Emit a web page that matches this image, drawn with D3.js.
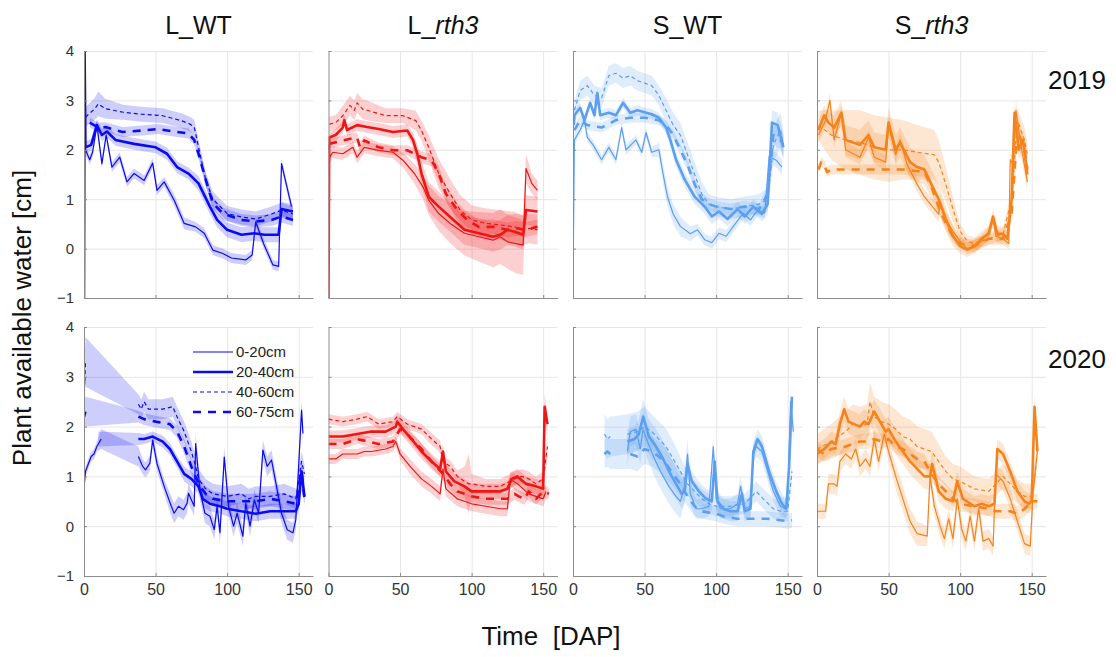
<!DOCTYPE html>
<html>
<head>
<meta charset="utf-8">
<script src="https://cdn.jsdelivr.net/npm/d3@7"></script>
<style>
  body { margin: 0; background: #fff; }
  text { font-family: Arial, "Liberation Sans", sans-serif; }
</style>
</head>
<body>
<svg width="1116" height="657"></svg>
<script>
// each point: [day, mean, sd]; null mean = gap in the line (band still spans it)
const depths = ["0-20cm", "20-40cm", "40-60cm", "60-75cm"];
const xTicks = [0, 50, 100, 150];
const yTicks = [-1, 0, 1, 2, 3, 4];
const titles = ["L_WT", "L_rth3", "S_WT", "S_rth3"];
const years = ["2019", "2020"];
const colors = ["#0b0bf2", "#ee1515", "#5c9ff0", "#f5831c"];

// L_WT 2019
const lwt19_a = [[0,4.0,0],[1,2.0,0.1],[4,1.8,0.1],[6,1.95,0.1],[9,2.5,0.1],[12.5,1.72,0.1],[15.5,2.3,0.1],[19.5,1.65,0.1],[25,1.85,0.1],[30,1.35,0.1],[35,1.52,0.1],[42,1.38,0.1],[48,1.73,0.1],[51,1.18,0.1],[56,1.35,0.1],[63,0.98,0.12],[70,0.51,0.12],[78,0.44,0.1],[84,0.31,0.1],[90,-0.03,0.1],[97,-0.1,0.1],[103,-0.19,0.1],[113,-0.23,0.1],[117.5,-0.13,0.1],[120,0.54,0.1],[125.5,0.1,0.1],[132,-0.33,0.1],[136,-0.36,0.1],[138,1.72,0.1],[145,0.85,0.1]];
const lwt19_b = [[0,-1,0],[0.4,4,0],[1,2.05,0.12],[5,2.1,0.12],[9,2.5,0.12],[12.5,2.3,0.12],[16,2.37,0.12],[22,2.2,0.12],[35,2.12,0.12],[50,2.05,0.12],[58,1.92,0.12],[65,1.65,0.12],[73,1.52,0.12],[80,1.32,0.15],[88,0.85,0.15],[93,0.58,0.15],[100,0.38,0.15],[110,0.28,0.15],[119,0.31,0.15],[126,0.28,0.15],[136,0.28,0.15],[138,0.8,0.15],[146,0.75,0.15]];
const lwt19_c = [[1,2.66,0.2],[7.5,2.83,0.22],[10,2.93,0.25],[15,2.83,0.2],[27.5,2.76,0.15],[40,2.72,0.15],[55,2.69,0.15],[68,2.59,0.15],[74,2.52,0.15],[77,2.46,0.15],[80,2.06,0.15],[85,1.4,0.15],[90,1.0,0.15],[100,0.71,0.15],[110,0.64,0.15],[120,0.6,0.15],[131,0.7,0.15],[138,0.78,0.15],[146,0.7,0.15]];
const lwt19_d = [[4,2.55,0.1],[10,2.45,0.1],[15,2.46,0.1],[27,2.36,0.1],[40,2.39,0.1],[52,2.42,0.1],[65,2.36,0.1],[73,2.33,0.1],[77,2.2,0.1],[80,1.92,0.1],[85,1.4,0.12],[90,0.92,0.12],[97,0.71,0.12],[110,0.58,0.12],[120,0.55,0.12],[131,0.58,0.12],[138,0.65,0.12],[146,0.58,0.12]];

// L_rth3 2019
const lr19_a = [[0,2.1,0],[1,1.85,0.12],[3,1.95,0.12],[10,1.92,0.12],[17,2.05,0.12],[20,1.85,0.12],[25,2.05,0.12],[35,1.99,0.12],[45,1.95,0.12],[52,1.79,0.15],[60,1.52,0.2],[66,1.25,0.25],[70,0.98,0.3],[77,0.71,0.35],[85,0.51,0.4],[95,0.31,0.45],[105,0.24,0.5],[115,0.17,0.55],[120,0.24,0.55],[125,0.14,0.55],[131,0.1,0.6],[136,0.07,0.6],[138,1.62,0.3],[142,1.32,0.2],[146,1.18,0.2]];
const lr19_b = [[0,-1,0],[0.5,2.25,0.1],[5,2.3,0.12],[10,2.45,0.12],[11,2.6,0.12],[13,2.4,0.12],[20,2.5,0.12],[27,2.46,0.12],[35,2.42,0.12],[45,2.36,0.12],[55,2.39,0.12],[59,2.2,0.15],[62,1.92,0.2],[65,1.52,0.25],[70,1.05,0.3],[77,0.85,0.3],[85,0.64,0.3],[95,0.38,0.3],[105,0.31,0.3],[115,0.24,0.3],[120,0.28,0.3],[125,0.38,0.3],[130,0.34,0.3],[136,0.28,0.3],[138,0.78,0.3],[146,0.75,0.3]];
const lr19_c = [[0.5,2.52,0.15],[5,2.55,0.15],[10,2.69,0.2],[15,2.9,0.2],[18,2.8,0.2],[20,2.95,0.2],[24,2.82,0.2],[27,2.8,0.2],[40,2.69,0.15],[52,2.69,0.15],[61,2.59,0.2],[65,2.39,0.2],[70,2.05,0.25],[77,1.52,0.3],[85,1.11,0.3],[92,0.78,0.3],[100,0.58,0.3],[110,0.51,0.3],[120,0.48,0.3],[130,0.44,0.3],[136,0.38,0.3],[140,0.41,0.3],[146,0.38,0.3]];
const lr19_d = [[0.5,2.12,0.1],[10,2.19,0.1],[20,2.25,0.1],[22,2.05,0.1],[25,2.19,0.1],[35,2.05,0.1],[45,1.99,0.1],[55,1.99,0.1],[65,1.85,0.12],[72,1.79,0.12],[77,1.52,0.15],[82,1.11,0.15],[90,0.78,0.15],[97,0.58,0.15],[105,0.44,0.15],[115,0.44,0.15],[125,0.38,0.15],[132,0.41,0.15],[137,0.38,0.15],[146,0.44,0.15]];

// S_WT 2019
const sw19_a = [[0,-0.7,0],[1,2.2,0.1],[5,2.4,0.1],[8,2.6,0.1],[10,2.25,0.1],[14,2.1,0.1],[20,1.8,0.1],[25,2.05,0.1],[30,1.8,0.1],[34,2.45,0.1],[37,2.0,0.1],[44,2.2,0.1],[48,1.95,0.1],[51,2.35,0.1],[55,1.95,0.1],[60,2.0,0.15],[63,1.5,0.2],[66,1.05,0.2],[70,0.7,0.2],[75,0.45,0.2],[82,0.3,0.15],[87,0.38,0.12],[92,0.18,0.12],[97,0.12,0.12],[102,0.31,0.12],[107,0.25,0.12],[112,0.45,0.12],[119,0.72,0.12],[124,0.58,0.12],[129,0.78,0.12],[134,0.72,0.12],[137,1.86,0.15],[142,1.79,0.15],[146,1.65,0.15]];
const sw19_b = [[0.5,2.5,0],[1,2.7,0.1],[5,2.85,0.1],[8,2.6,0.1],[12,2.95,0.1],[15,2.7,0.1],[17,3.15,0.1],[19,2.7,0.1],[25,2.75,0.1],[30,2.7,0.1],[35,2.95,0.1],[40,2.75,0.1],[45,2.8,0.1],[55,2.72,0.1],[60,2.65,0.1],[65,2.45,0.12],[68,2.2,0.15],[72,1.8,0.15],[78,1.4,0.15],[85,1.05,0.15],[92,0.85,0.15],[97,0.65,0.15],[102,0.75,0.15],[108,0.6,0.15],[115,0.8,0.15],[120,0.65,0.15],[126,0.85,0.15],[132,0.7,0.15],[136,0.9,0.2],[139,2.55,0.25],[143,2.5,0.25],[147,2.05,0.25]];
const sw19_c = [[1,2.8,0.2],[5,3.2,0.2],[10,3.3,0.2],[15,3.1,0.2],[20,3.05,0.2],[25,3.5,0.2],[30,3.55,0.2],[35,3.45,0.2],[40,3.5,0.2],[45,3.4,0.2],[50,3.35,0.2],[55,3.3,0.2],[60,3.1,0.2],[65,2.8,0.25],[70,2.5,0.25],[75,2.3,0.25],[80,1.9,0.25],[85,1.5,0.25],[90,1.1,0.25],[95,0.9,0.2],[100,0.85,0.2],[110,0.8,0.2],[120,0.85,0.2],[130,0.9,0.2],[136,1.0,0.25],[140,2.1,0.35],[145,2.4,0.35],[147,2.1,0.3]];
const sw19_d = [[1,2.4,0.1],[5,2.6,0.1],[10,2.5,0.1],[20,2.45,0.1],[30,2.6,0.1],[40,2.65,0.1],[50,2.65,0.1],[60,2.6,0.1],[65,2.5,0.1],[70,2.3,0.1],[75,2.0,0.12],[80,1.7,0.12],[85,1.3,0.12],[90,1.0,0.12],[95,0.9,0.12],[100,0.85,0.12],[110,0.8,0.12],[120,0.85,0.12],[130,0.8,0.12],[136,1.1,0.15],[140,2.3,0.2],[145,2.2,0.2],[147,2.1,0.2]];

// S_rth3 2019
const sr19_a = [[1,2.3,0.15],[6,2.6,0.15],[9,3.0,0.15],[12,2.2,0.15],[17,2.75,0.15],[20,2.0,0.15],[30,1.85,0.15],[36,2.25,0.15],[40,1.85,0.15],[48,1.75,0.15],[50,2.5,0.15],[55,1.9,0.15],[58,2.2,0.15],[63,1.7,0.15],[70,1.3,0.15],[75,1.05,0.15],[85,0.7,0.15],[86,0.95,0.15],[90,0.6,0.15],[95,0.35,0.15],[100,0.15,0.12],[105,0.0,0.12],[110,0.05,0.12],[115,0.15,0.12],[120,0.35,0.12],[123,0.58,0.12],[125,0.25,0.12],[130,0.2,0.12],[134,0.1,0.12],[135,1.8,0.15],[137,1.7,0.15],[139,2.8,0.2],[143,2.0,0.2],[147,1.35,0.2]];
const sr19_b = [[1,2.4,0.2],[5,2.7,0.2],[8,2.55,0.2],[12,2.45,0.25],[17,2.75,0.25],[20,2.2,0.3],[30,2.1,0.3],[36,2.3,0.3],[40,2.05,0.3],[48,2.0,0.3],[50,2.55,0.3],[55,2.0,0.3],[58,2.15,0.3],[65,1.75,0.3],[70,1.65,0.3],[75,1.6,0.3],[80,1.3,0.3],[85,1.0,0.3],[90,0.6,0.25],[95,0.25,0.2],[100,0.05,0.15],[105,-0.02,0.15],[110,0.05,0.15],[115,0.2,0.15],[120,0.3,0.15],[123,0.65,0.15],[126,0.3,0.15],[130,0.3,0.15],[133,0.2,0.15],[136,1.0,0.2],[138,2.75,0.2],[141,2.0,0.2],[144,2.2,0.2],[147,1.5,0.2]];
const sr19_c = [[1,2.5,0.3],[10,2.3,0.5],[20,2.2,0.6],[30,2.15,0.65],[40,2.05,0.65],[50,2.0,0.65],[60,2.0,0.6],[70,1.95,0.55],[82,1.9,0.5],[85,1.75,0.45],[90,1.3,0.35],[95,0.8,0.25],[100,0.35,0.15],[105,0.15,0.12],[110,0.1,0.12],[120,0.2,0.12],[130,0.3,0.12],[136,1.0,0.2],[140,2.6,0.25],[145,2.2,0.25],[147,1.9,0.25]];
const sr19_d = [[1,1.6,0.1],[3,1.75,0.1],[5,1.7,0.1],[7,1.55,0.1],[10,1.6,0.1],[20,1.6,0.1],[40,1.6,0.1],[60,1.6,0.1],[75,1.55,0.1],[80,1.25,0.12],[85,0.85,0.12],[90,0.5,0.12],[95,0.25,0.12],[100,0.1,0.12],[110,0.05,0.12],[120,0.2,0.12],[130,0.2,0.12],[136,0.7,0.15],[140,2.4,0.2],[145,2.0,0.2],[147,1.6,0.2]];

// L_WT 2020
const lwt20_a = [[0,0.75,0.1],[1,1.1,0.1],[3,1.25,0.1],[5,1.4,0.1],[7,1.45,0.1],[9,1.6,0.1],[12,1.75,0.2],[25,null,null],[38,1.4,0.2],[41,1.2,0.15],[43,1.13,0.15],[46,1.26,0.15],[48,1.73,0.15],[51,1.26,0.15],[56,0.8,0.15],[61,0.4,0.2],[63,0.26,0.2],[66,0.4,0.2],[69.5,0.33,0.2],[72,0.46,0.2],[73,0.66,0.2],[77,0.4,0.2],[78,1.66,0.2],[81,0.73,0.2],[84.5,0.26,0.2],[88,0.2,0.2],[91,-0.07,0.2],[93,0.4,0.2],[95,-0.13,0.2],[98,1.39,0.2],[101,0.4,0.2],[104.5,0.0,0.2],[107,0.26,0.2],[111,-0.2,0.2],[113,0.46,0.2],[116,0.0,0.2],[119,0.53,0.2],[122,0.26,0.2],[125,1.53,0.2],[128,1.2,0.2],[131,1.33,0.2],[134.5,0.8,0.2],[138,0.26,0.2],[142,-0.07,0.2],[146,-0.13,0.2],[148,0.13,0.2],[152,2.33,0.2],[153,1.86,0.2]];
const lwt20_b = [[10,1.75,0.15],[25,null,null],[38,1.75,0.12],[42,1.75,0.1],[48,1.8,0.1],[55,1.7,0.12],[60,1.55,0.12],[65,1.3,0.12],[70,1.05,0.15],[75,0.95,0.15],[80,0.8,0.15],[83,0.55,0.15],[88,0.45,0.15],[95,0.4,0.15],[100,0.35,0.15],[110,0.3,0.15],[120,0.25,0.15],[130,0.3,0.15],[140,0.3,0.15],[148,0.3,0.15],[150,0.45,0.15],[152,1.1,0.15],[154,0.6,0.15]];
const lwt20_c = [[0,3.35,0.5],[0.5,2.85,0.45],[1,3.3,0.5],[20,null,null],[38,2.45,0.2],[40,2.35,0.2],[42,2.5,0.2],[45,2.35,0.2],[55,2.35,0.2],[62,2.4,0.2],[65,2.2,0.2],[70,1.9,0.2],[75,1.5,0.2],[78,1.2,0.2],[80,0.95,0.2],[85,0.75,0.2],[90,0.65,0.2],[100,0.6,0.2],[110,0.65,0.2],[115,0.55,0.2],[120,0.6,0.2],[130,0.6,0.2],[140,0.65,0.2],[148,0.55,0.2],[152,1.3,0.2],[154,1.05,0.2]];
const lwt20_d = [[0,2.2,0.3],[1,2.3,0.3],[20,null,null],[38,2.2,0.12],[42,2.15,0.12],[50,2.1,0.12],[60,2.05,0.12],[65,1.9,0.12],[70,1.6,0.15],[75,1.2,0.15],[80,0.85,0.15],[85,0.65,0.15],[90,0.55,0.15],[100,0.5,0.15],[110,0.5,0.15],[120,0.5,0.15],[130,0.55,0.15],[140,0.5,0.15],[148,0.45,0.15],[152,1.1,0.15],[154,0.55,0.15]];

// L_rth3 2020
const lr20_a = [[0,1.35,0.1],[5,1.35,0.1],[10,1.45,0.1],[15,1.45,0.1],[20,1.45,0.1],[25,1.5,0.1],[30,1.5,0.1],[40,1.55,0.1],[45,1.6,0.1],[47,1.7,0.1],[50,1.45,0.12],[57,1.2,0.15],[65,0.95,0.15],[72,0.8,0.15],[78,0.65,0.15],[80,1.15,0.15],[82,0.75,0.15],[90,0.55,0.15],[95,0.5,0.15],[100,0.45,0.15],[110,0.4,0.15],[120,0.35,0.15],[125,0.35,0.15],[127,0.95,0.15],[132,0.85,0.15],[140,0.65,0.15],[145,0.6,0.15],[150,0.55,0.15],[152,0.7,0.15]];
const lr20_b = [[0,1.8,0.12],[10,1.8,0.12],[20,1.85,0.12],[30,1.9,0.12],[40,1.9,0.12],[47,2.0,0.12],[48,2.1,0.15],[52,1.95,0.15],[58,1.75,0.15],[65,1.5,0.15],[72,1.3,0.15],[78,1.15,0.15],[80,1.5,0.15],[82,1.1,0.15],[88,0.9,0.15],[95,0.8,0.15],[100,0.7,0.15],[110,0.7,0.15],[120,0.7,0.15],[125,0.75,0.15],[128,0.95,0.15],[132,1.0,0.15],[138,0.85,0.15],[145,0.8,0.15],[150,0.75,0.15],[151,2.4,0.25],[153,2.05,0.25]];
const lr20_c = [[0,2.15,0.1],[10,2.1,0.1],[20,2.15,0.1],[27,2.2,0.1],[35,2.05,0.1],[45,2.1,0.1],[48,2.2,0.1],[55,2.05,0.1],[65,1.95,0.1],[72,1.75,0.12],[78,1.6,0.12],[80,1.3,0.12],[85,1.2,0.12],[90,1.0,0.12],[95,0.9,0.3],[98,0.85,0.6],[100,0.85,0.2],[110,0.8,0.15],[120,0.8,0.15],[130,0.95,0.15],[135,1.0,0.15],[140,0.95,0.15],[145,0.85,0.15],[150,0.95,0.15],[153,1.6,0.2]];
const lr20_d = [[0,1.65,0.1],[10,1.65,0.1],[20,1.75,0.1],[28,1.7,0.1],[35,1.65,0.1],[45,1.7,0.1],[50,1.95,0.1],[55,1.85,0.1],[65,1.55,0.12],[72,1.3,0.12],[80,1.05,0.12],[85,0.85,0.12],[90,0.7,0.12],[100,0.6,0.12],[110,0.55,0.12],[120,0.55,0.12],[125,0.55,0.12],[130,0.65,0.12],[133,0.6,0.12],[137,0.55,0.12],[140,0.7,0.12],[145,0.55,0.12],[150,0.7,0.12],[154,0.65,0.12]];

// S_WT 2020
const sw20_a = [[38,1.5,0.3],[40,1.9,0.3],[44,1.95,0.3],[47,1.55,0.3],[49,1.95,0.35],[52,1.7,0.35],[57,1.35,0.35],[62,1.05,0.35],[67,0.8,0.35],[72,0.6,0.35],[75,0.5,0.35],[78,0.8,0.3],[80,1.45,0.3],[82,0.65,0.25],[86,0.35,0.2],[90,0.35,0.2],[95,0.4,0.2],[98,1.6,0.2],[100,0.55,0.2],[103,0.35,0.2],[110,0.35,0.2],[115,0.45,0.2],[117,0.8,0.2],[120,0.35,0.2],[124,0.4,0.2],[126,1.45,0.2],[128,1.6,0.2],[132,1.5,0.2],[136,1.1,0.2],[140,0.7,0.2],[145,0.4,0.2],[148,0.35,0.2],[150,0.45,0.2],[152,2.5,0.2],[154,1.9,0.2]];
const sw20_b = [[38,1.7,0.25],[43,1.75,0.25],[46,1.85,0.3],[49,2.2,0.35],[53,1.8,0.35],[58,1.6,0.35],[63,1.35,0.35],[68,1.05,0.35],[73,0.8,0.3],[76,0.65,0.3],[78,0.7,0.25],[80,1.25,0.25],[83,0.9,0.2],[88,0.7,0.2],[93,0.55,0.2],[97,0.5,0.2],[99,1.3,0.2],[101,0.5,0.2],[105,0.35,0.2],[110,0.3,0.2],[115,0.3,0.2],[118,0.65,0.2],[120,0.3,0.2],[124,0.35,0.2],[126,1.5,0.2],[129,1.75,0.2],[132,1.6,0.2],[137,1.1,0.2],[142,0.7,0.2],[146,0.45,0.2],[149,0.35,0.2],[151,1.2,0.2],[153,2.6,0.2]];
const sw20_c = [[22,1.85,0.4],[24,1.75,0.4],[26,1.8,0.4],[32,null,null],[38,1.85,0.4],[45,1.9,0.4],[50,2.0,0.4],[55,1.9,0.35],[60,1.75,0.35],[65,1.6,0.35],[70,1.35,0.35],[75,1.1,0.3],[80,0.85,0.25],[85,0.7,0.2],[90,0.55,0.2],[95,0.45,0.2],[100,0.4,0.2],[110,0.4,0.2],[120,0.45,0.2],[125,0.6,0.2],[128,0.7,0.2],[133,0.55,0.2],[140,0.35,0.2],[145,0.3,0.2],[150,0.3,0.2],[153,1.1,0.2]];
const sw20_d = [[22,1.45,0.3],[24,1.5,0.3],[26,1.45,0.3],[32,null,null],[40,1.45,0.3],[45,1.4,0.3],[50,1.55,0.3],[55,1.5,0.3],[60,1.4,0.3],[65,1.25,0.3],[70,1.05,0.25],[75,0.85,0.25],[80,0.6,0.2],[85,0.4,0.2],[90,0.3,0.15],[100,0.25,0.15],[105,0.2,0.15],[115,0.15,0.15],[125,0.15,0.15],[135,0.15,0.15],[145,0.12,0.15],[150,0.1,0.15],[153,0.12,0.15]];

// S_rth3 2020
const sr20_a = [[0,0.3,0.15],[6,0.3,0.15],[8,0.85,0.2],[12,0.85,0.2],[14,0.8,0.2],[16,1.3,0.2],[20,1.45,0.2],[24,1.35,0.2],[27,1.55,0.2],[30,1.2,0.2],[34,1.35,0.2],[37,1.2,0.2],[40,1.75,0.2],[43,1.3,0.2],[47,1.85,0.2],[50,1.5,0.2],[55,1.0,0.25],[60,0.55,0.25],[65,0.1,0.25],[70,-0.15,0.25],[77,-0.2,0.2],[79,1.0,0.2],[82,0.4,0.2],[86,0.0,0.2],[89,-0.25,0.2],[92,0.15,0.2],[95,-0.25,0.2],[98,0.55,0.2],[101,-0.05,0.2],[104,-0.3,0.2],[107,0.2,0.2],[110,-0.3,0.2],[113,0.35,0.2],[116,-0.3,0.2],[120,-0.25,0.2],[123,-0.4,0.2],[125,1.05,0.2],[130,0.9,0.2],[135,0.55,0.2],[140,0.1,0.2],[145,-0.35,0.2],[149,-0.4,0.2],[151,0.7,0.2],[154,1.5,0.2]];
const sr20_b = [[0,1.45,0.2],[5,1.55,0.2],[10,1.7,0.2],[13,1.65,0.2],[16,2.05,0.25],[19,2.35,0.25],[22,2.1,0.25],[26,2.05,0.25],[30,2.0,0.25],[33,2.1,0.25],[36,2.05,0.25],[40,2.3,0.25],[45,2.05,0.25],[48,1.9,0.25],[50,1.95,0.25],[55,1.7,0.25],[60,1.5,0.25],[65,1.3,0.25],[70,1.15,0.25],[75,1.0,0.25],[79,1.0,0.25],[80.5,1.25,0.25],[85,0.7,0.2],[90,0.55,0.2],[95,0.5,0.2],[98,0.9,0.2],[102,0.55,0.2],[110,0.4,0.2],[115,0.45,0.2],[120,0.4,0.2],[124,0.45,0.2],[126,1.55,0.2],[130,1.45,0.2],[135,1.1,0.2],[140,0.7,0.2],[145,0.5,0.2],[148,0.45,0.2],[150,0.5,0.2],[152,2.4,0.25],[154,1.5,0.25]];
const sr20_c = [[0,1.55,0.3],[10,1.7,0.35],[20,1.9,0.4],[25,2.05,0.4],[30,2.0,0.4],[35,2.05,0.4],[37,2.5,0.4],[40,2.2,0.4],[45,2.1,0.4],[50,2.05,0.4],[55,1.95,0.4],[60,1.8,0.4],[65,1.75,0.4],[70,1.6,0.4],[75,1.55,0.4],[80,1.5,0.4],[85,1.3,0.35],[90,1.1,0.3],[95,0.95,0.3],[100,0.9,0.3],[110,0.75,0.25],[120,0.7,0.25],[125,0.85,0.25],[130,1.0,0.25],[135,0.85,0.25],[140,0.7,0.25],[145,0.6,0.25],[150,0.6,0.25],[153,1.2,0.3]];
const sr20_d = [[0,1.55,0.15],[5,1.45,0.15],[10,1.55,0.15],[20,1.6,0.15],[30,1.7,0.15],[35,1.7,0.15],[40,1.75,0.15],[45,1.7,0.15],[50,1.75,0.15],[55,1.6,0.15],[60,1.55,0.15],[65,1.45,0.15],[70,1.35,0.15],[75,1.3,0.15],[80,1.05,0.15],[85,0.85,0.15],[90,0.7,0.15],[95,0.55,0.15],[100,0.45,0.15],[110,0.4,0.15],[120,0.35,0.15],[125,0.3,0.15],[130,0.3,0.15],[135,0.3,0.15],[140,0.25,0.15],[145,0.35,0.15],[150,0.5,0.15],[154,0.5,0.15]];

const panelSeries = [
  [[lwt19_a, lwt19_b, lwt19_c, lwt19_d], [lr19_a, lr19_b, lr19_c, lr19_d], [sw19_a, sw19_b, sw19_c, sw19_d], [sr19_a, sr19_b, sr19_c, sr19_d]],
  [[lwt20_a, lwt20_b, lwt20_c, lwt20_d], [lr20_a, lr20_b, lr20_c, lr20_d], [sw20_a, sw20_b, sw20_c, sw20_d], [sr20_a, sr20_b, sr20_c, sr20_d]]
];

// line styles per depth
const widths = [1.2, 2.6, 1.2, 2.6];
const dashes = [null, null, "4,3", "8,7"];

const svg = d3.select("svg");
const colLeft = [84, 328.5, 573, 817];
const panelW = 229;
const rowTop = [51, 327];
const rowH = [247, 249];
const axisColor = "#8c8c8c";

panelSeries.forEach((row, r) => {
  row.forEach((series, c) => {
    const x = d3.scaleLinear().domain([0, 160]).range([colLeft[c], colLeft[c] + panelW]);
    const y = d3.scaleLinear().domain([-1, 4]).range([rowTop[r] + rowH[r], rowTop[r]]);
    const g = svg.append("g");
    const color = colors[c];

    // grid
    g.append("g")
      .attr("transform", `translate(0,${rowTop[r] + rowH[r]})`)
      .call(d3.axisBottom(x).tickValues([50, 100, 150]).tickSize(-rowH[r]).tickFormat(""))
      .call(s => s.select(".domain").remove())
      .call(s => s.selectAll("line").attr("stroke", "#e6e6e6"));
    g.append("g")
      .attr("transform", `translate(${colLeft[c]},0)`)
      .call(d3.axisLeft(y).tickValues([0, 1, 2, 3, 4]).tickSize(-panelW).tickFormat(""))
      .call(s => s.select(".domain").remove())
      .call(s => s.selectAll("line").attr("stroke", "#e6e6e6"));

    const clipId = `clip${r}${c}`;
    svg.append("clipPath").attr("id", clipId)
      .append("rect").attr("x", colLeft[c]).attr("y", rowTop[r])
      .attr("width", panelW).attr("height", rowH[r]);
    const plot = g.append("g").attr("clip-path", `url(#${clipId})`);

    const area = d3.area()
      .x(d => x(d[0])).y0(d => y(d[1] - d[2])).y1(d => y(d[1] + d[2]));
    const line = d3.line()
      .defined(d => d[1] !== null)
      .x(d => x(d[0])).y(d => y(d[1]));

    series.forEach(s => {
      plot.append("path")
        .attr("d", area(s.filter(d => d[1] !== null)))
        .attr("fill", color).attr("fill-opacity", 0.2).attr("stroke", "none");
    });
    series.forEach((s, i) => {
      plot.append("path")
        .attr("d", line(s))
        .attr("fill", "none").attr("stroke", color)
        .attr("stroke-width", widths[i])
        .attr("stroke-dasharray", dashes[i])
        .attr("stroke-linejoin", "round");
    });

    // axes
    const xa = g.append("g")
      .attr("transform", `translate(0,${rowTop[r] + rowH[r]})`)
      .call(d3.axisBottom(x).tickValues(xTicks).tickSizeInner(-3).tickSizeOuter(0).tickPadding(8)
        .tickFormat(r === 1 ? d3.format("d") : ""));
    const ya = g.append("g")
      .attr("transform", `translate(${colLeft[c]},0)`)
      .call(d3.axisLeft(y).tickValues(yTicks).tickSizeInner(-3).tickSizeOuter(0).tickPadding(10)
        .tickFormat(c === 0 ? d3.format("d") : ""));
    [xa, ya].forEach(a => {
      a.select(".domain").attr("stroke", axisColor);
      a.selectAll(".tick line").attr("stroke", axisColor);
      a.selectAll(".tick text").attr("fill", "#333")
        .style("font-family", "Arial, 'Liberation Sans', sans-serif");
    });
    xa.selectAll(".tick text").style("font-size", "16px");
    ya.selectAll(".tick text").style("font-size", "15px");
  });
});

// column titles
titles.forEach((t, c) => {
  const cx = colLeft[c] + panelW / 2;
  const txt = svg.append("text").attr("x", cx).attr("y", 34)
    .attr("text-anchor", "middle").attr("font-size", 25).attr("fill", "#111");
  const parts = t.split("_");
  txt.append("tspan").text(parts[0] + "_");
  txt.append("tspan").text(parts[1]).attr("font-style", parts[1] === "WT" ? "normal" : "italic");
});

// year labels
years.forEach((yr, r) => {
  svg.append("text").attr("x", 1048).attr("y", r === 0 ? 89 : 368)
    .attr("font-size", 26).attr("fill", "#111").text(yr);
});

// axis titles
svg.append("text")
  .attr("transform", "translate(31,318) rotate(-90)")
  .attr("text-anchor", "middle").attr("font-size", 26).attr("fill", "#111")
  .text("Plant available water [cm]");
svg.append("text")
  .attr("x", 551).attr("y", 645).attr("text-anchor", "middle")
  .attr("font-size", 26).attr("fill", "#111")
  .style("white-space", "pre")
  .text("Time  [DAP]");

// legend in the first 2020 panel
const legend = svg.append("g");
depths.forEach((name, i) => {
  const ly = 352 + i * 20;
  legend.append("line")
    .attr("x1", 193).attr("x2", 233).attr("y1", ly).attr("y2", ly)
    .attr("stroke", colors[0]).attr("stroke-width", widths[i])
    .attr("stroke-dasharray", dashes[i]);
  legend.append("text")
    .attr("x", 236).attr("y", ly + 5)
    .attr("font-size", 15).attr("fill", "#222").text(name);
});
</script>
</body>
</html>
